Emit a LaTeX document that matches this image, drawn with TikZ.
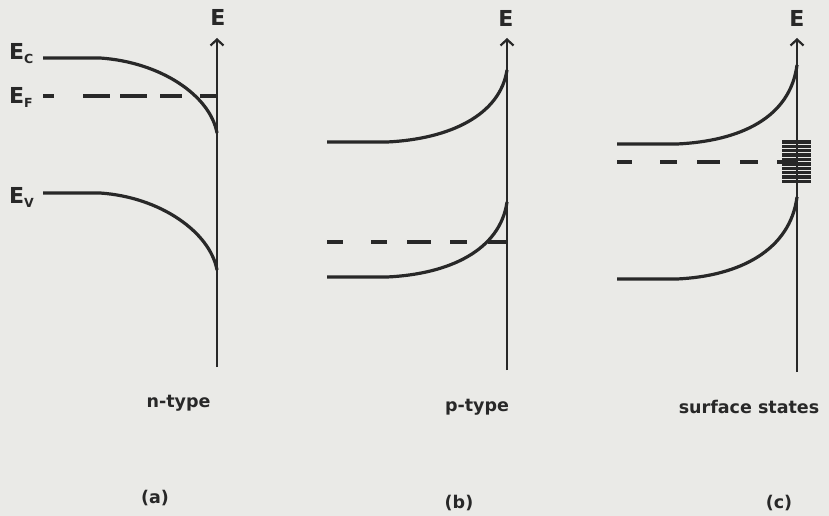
\documentclass[tikz,border=0pt]{standalone}
\usepackage{fontspec}
\setmainfont{DejaVu Sans}
\usetikzlibrary{arrows.meta}
\definecolor{paper}{RGB}{234,234,231}
\definecolor{ink}{RGB}{40,40,40}
\newcommand{\subtxt}[1]{\raisebox{-4.5pt}{\fontsize{12.5}{13}\selectfont #1}}
\begin{document}
\begin{tikzpicture}[x=1pt,y=-1pt,
  band/.style={draw=ink, line width=3.2pt},
  fermi/.style={draw=ink, line width=3.2pt},
  axisline/.style={draw=ink, line width=2.6pt, -{Straight Barb[length=6pt,width=13pt,line width=2.2pt]}},
  lbl/.style={text=ink, font=\bfseries\fontsize{17.5}{19}\selectfont, inner sep=0pt},
  elbl/.style={text=ink, font=\bfseries\fontsize{22}{24}\selectfont, inner sep=0pt},
  sstate/.style={draw=ink, line width=3.4pt},
]
\fill[paper] (0,0) rectangle (829,516);
\useasboundingbox (0,0) rectangle (829,516);

% ---------- (a) n-type ----------
\coordinate (a0) at (217,367);
\coordinate (a1) at (217,38);
\draw[axisline] (a0) -- (a1);
\node[elbl] (aE) at (218,17) {E};
\coordinate (ac0) at (43,58);
\coordinate (ac1) at (100,58);
\coordinate (ac2) at (217,133);
\draw[band] (ac0) -- (ac1) .. controls (160,62) and (210,95) .. (ac2);
\coordinate (af0) at (43,96);
\coordinate (af1) at (217,96);
\draw[fermi, dash pattern=on 11pt off 29pt on 27pt off 10pt on 27pt off 13pt on 22pt off 18pt on 18pt off 10pt] (af0) -- (af1);
\coordinate (av0) at (43,193);
\coordinate (av1) at (100,193);
\coordinate (av2) at (217,270);
\draw[band] (av0) -- (av1) .. controls (160,197) and (210,232) .. (av2);
\node[elbl, anchor=base west] (lEc) at (9,59.3) {E\subtxt{C}};
\node[elbl, anchor=base west] (lEf) at (9,103.3) {E\subtxt{F}};
\node[elbl, anchor=base west] (lEv) at (9,203.3) {E\subtxt{V}};
\node[lbl, anchor=base] (ntype) at (178.5,407) {n-type};
\node[lbl] (capa) at (155,498) {(a)};

% ---------- (b) p-type ----------
\coordinate (b0) at (507,370);
\coordinate (b1) at (507,38);
\draw[axisline] (b0) -- (b1);
\node[elbl] (bE) at (506,18) {E};
\coordinate (bc0) at (327,142);
\coordinate (bc1) at (387,142);
\coordinate (bc2) at (507,70);
\draw[band] (bc0) -- (bc1) .. controls (450,139) and (500,115) .. (bc2);
\coordinate (bf0) at (327,242);
\coordinate (bf1) at (507,242);
\draw[fermi, dash pattern=on 16pt off 28pt on 16pt off 20pt on 24pt off 19pt on 17pt off 21pt on 19pt off 10pt] (bf0) -- (bf1);
\coordinate (bv0) at (327,277);
\coordinate (bv1) at (387,277);
\coordinate (bv2) at (507,202);
\draw[band] (bv0) -- (bv1) .. controls (450,274) and (500,250) .. (bv2);
\node[lbl, anchor=base] (ptype) at (477,411) {p-type};
\node[lbl] (capb) at (459,503) {(b)};

% ---------- (c) surface states ----------
\coordinate (c0) at (797,372);
\coordinate (c1) at (797,38);
\foreach \k in {0,...,9}{
  \draw[sstate] (782,141.8+4.4*\k) -- (811,141.8+4.4*\k);
}
\draw[axisline] (c0) -- (c1);
\node[elbl] (cE) at (797,18) {E};
\coordinate (cc0) at (617,144);
\coordinate (cc1) at (677,144);
\coordinate (cc2) at (797,65);
\draw[band] (cc0) -- (cc1) .. controls (740,141) and (790,118) .. (cc2);
\coordinate (cf0) at (617,162);
\coordinate (cf1) at (797,162);
\draw[fermi, dash pattern=on 15pt off 28pt on 17pt off 20pt on 23pt off 20pt on 18pt off 19pt on 20pt off 10pt] (cf0) -- (cf1);
\coordinate (cv0) at (617,279);
\coordinate (cv1) at (677,279);
\coordinate (cv2) at (797,197);
\draw[band] (cv0) -- (cv1) .. controls (740,276) and (790,250) .. (cv2);
\node[lbl, anchor=base] (stype) at (749,413) {surface states};
\node[lbl] (capc) at (779,503) {(c)};
\end{tikzpicture}
\end{document}
